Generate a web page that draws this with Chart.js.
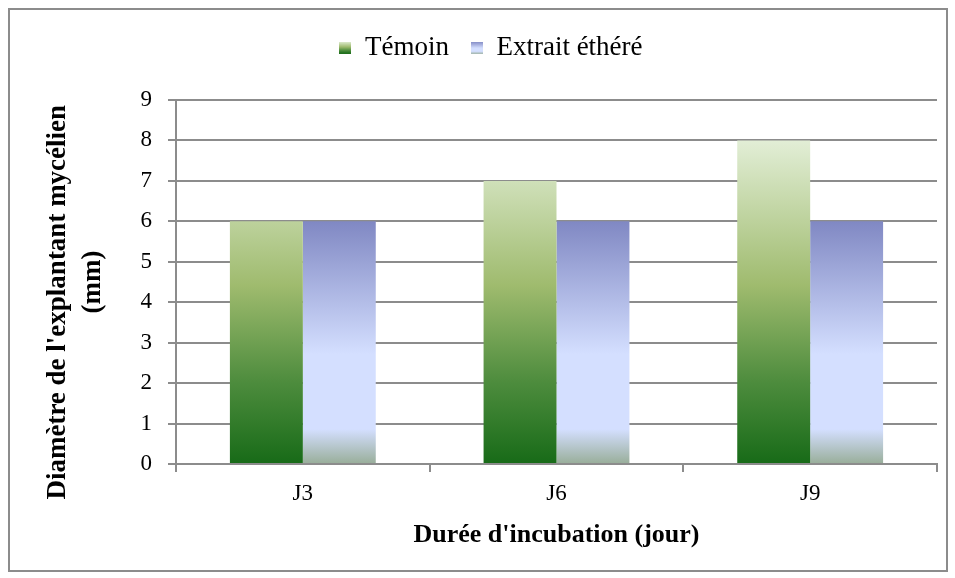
<!DOCTYPE html>
<html>
<head>
<meta charset="utf-8">
<script src="https://cdn.jsdelivr.net/npm/chart.js@4/dist/chart.umd.min.js"></script>
<style>
  body { margin: 0; background: #fff; }
  #frame { position: absolute; left: 8px; top: 8px; width: 936px; height: 560px; border: 2px solid #8c8c8c; }
  #wrap { position: absolute; left: 0; top: 0; width: 955px; height: 578px; }
</style>
</head>
<body>
<div id="frame"></div>
<div id="wrap"><canvas id="myChart" width="955" height="578"></canvas></div>
<script>
const days = ['J3', 'J6', 'J9'];
const temoin = [6, 7, 8];
const extrait = [6, 6, 6];
const yTicks = [0, 1, 2, 3, 4, 5, 6, 7, 8, 9];

const greenStops = [[0, '#e2eed6'], [0.45, '#9fbb6e'], [0.75, '#4d8c3d'], [1, '#186b18']];
const blueStops = [[0, '#8088c3'], [0.55, '#d4dfff'], [0.86, '#d4dfff'], [1, '#9aaf9c']];
const allStops = [greenStops, blueStops];


// gradient runs over each bar's own height, so it is set just before drawing
const barGradients = {
    id: 'barGradients',
    beforeDatasetsDraw(chart) {
        const c = chart.ctx;
        chart.data.datasets.forEach((ds, i) => {
            const stops = allStops[i];
            chart.getDatasetMeta(i).data.forEach(bar => {
                const g = c.createLinearGradient(0, bar.y, 0, bar.base);
                stops.forEach(s => g.addColorStop(s[0], s[1]));
                bar.options.backgroundColor = g;
            });
        });
    }
};

// more room under the legend
const legendMargin = {
    id: 'legendMargin',
    beforeInit(chart) {
        const fit = chart.legend.fit;
        chart.legend.fit = function () {
            fit.bind(chart.legend)();
            this.height += 29;
        };
    }
};


function legendBox(stops) {
    const c = document.createElement('canvas');
    c.width = 12;
    c.height = 12;
    const x = c.getContext('2d');
    const g = x.createLinearGradient(0, 0, 0, 12);
    stops.forEach(s => g.addColorStop(s[0], s[1]));
    x.fillStyle = g;
    x.fillRect(0, 0, 12, 12);
    return c;
}


function renderChart() {
    const ctx = document.getElementById('myChart');
    const serif = 'Liberation Serif, Times New Roman, serif';

    new Chart(ctx, {
        type: 'bar',
        data: {
            labels: days,
            datasets: [{
                label: 'Témoin',
                data: temoin,
                backgroundColor: '#9fbb6e',
                pointStyle: legendBox(greenStops)
            }, {
                label: 'Extrait éthéré',
                data: extrait,
                backgroundColor: '#d4dfff',
                pointStyle: legendBox(blueStops)
            }]
        },
        options: {
            responsive: false,
            animation: false,
            layout: { padding: { top: 12, right: 18, left: 45, bottom: 0 } },
            datasets: { bar: { categoryPercentage: 0.575, barPercentage: 1 } },
            plugins: {
                tooltip: { enabled: false },
                legend: {
                    position: 'top',
                    labels: {
                        usePointStyle: true,
                        color: '#000',
                        font: { family: serif, size: 27 },
                        padding: 22,
                        boxWidth: 12
                    }
                }
            },
            scales: {
                x: {
                    afterFit: axis => { axis.height = 114; },
                    grid: { drawOnChartArea: false, color: '#8c8c8c', lineWidth: 2, tickLength: 8 },
                    border: { color: '#8c8c8c', width: 2 },
                    ticks: { color: '#000', font: { family: serif, size: 23 }, padding: 8 },
                    title: {
                        display: true,
                        text: "Durée d'incubation (jour)",
                        color: '#000',
                        font: { family: serif, size: 26, weight: 'bold' },
                        padding: { top: 0, bottom: 27 }
                    }
                },
                y: {
                    min: 0,
                    max: 9,
                    afterBuildTicks: axis => { axis.ticks = yTicks.map(v => ({ value: v })); },
                    afterFit: axis => { axis.width = 131; },
                    grid: { color: '#8c8c8c', lineWidth: 2, tickLength: 8 },
                    border: { color: '#8c8c8c', width: 2 },
                    ticks: { color: '#000', font: { family: serif, size: 23 }, padding: 16 },
                    title: {
                        display: true,
                        text: ["Diamètre de l'explantant mycélien      ", '(mm)'],
                        color: '#000',
                        font: { family: serif, size: 27, weight: 'bold', lineHeight: 1.3 },
                        padding: { top: -5, bottom: 0 }
                    }
                }
            }
        },
        plugins: [barGradients, legendMargin]
    });
}

renderChart();
</script>
</body>
</html>
